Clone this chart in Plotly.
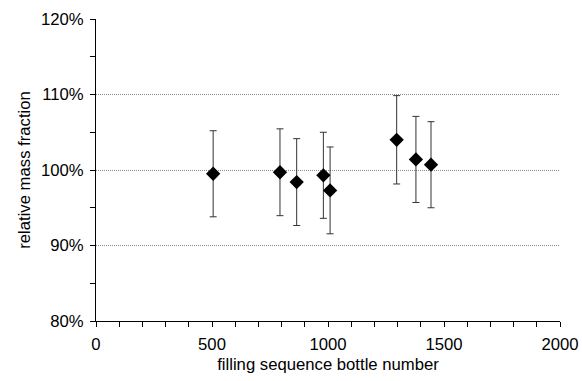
import plotly.graph_objects as go

bottle = [505, 793, 865, 980, 1009, 1296, 1379, 1444]
rel_mass = [0.995, 0.997, 0.984, 0.993, 0.973, 1.040, 1.014, 1.007]
uncert = [0.057, 0.0575, 0.0575, 0.057, 0.0575, 0.0585, 0.057, 0.057]

x_ticks = [0, 500, 1000, 1500, 2000]
y_ticks = [0.8, 0.9, 1.0, 1.1, 1.2]

FONT = "Liberation Sans, Arial, sans-serif"
FS = 16.7

fig = go.Figure()
fig.add_trace(go.Scatter(
    x=bottle, y=rel_mass, mode="markers",
    marker=dict(symbol="diamond", size=11, color="black"),
    error_y=dict(type="data", array=uncert, visible=True,
                 color="#333333", thickness=1, width=3.5),
    showlegend=False,
))

fig.update_layout(
    width=582, height=381,
    margin=dict(l=96, r=22, t=19, b=60, autoexpand=False),
    paper_bgcolor="white", plot_bgcolor="white",
    font=dict(family=FONT, size=FS, color="black"),
    xaxis=dict(
        range=[0, 2000], tickvals=x_ticks, ticktext=[str(v) for v in x_ticks],
        showline=True, linecolor="black", linewidth=1,
        ticks="outside", ticklen=5, tickcolor="black", ticklabelstandoff=3,
        minor=dict(dtick=100, ticks="outside", ticklen=5, tickcolor="black", showgrid=False),
        showgrid=False, zeroline=False, automargin=False,
        title=dict(text="filling sequence bottle number", font=dict(size=FS), standoff=5),
    ),
    yaxis=dict(
        range=[0.8, 1.2], tickvals=y_ticks, tickformat=".0%",
        showline=True, linecolor="black", linewidth=1,
        ticks="outside", ticklen=5, tickcolor="black", ticklabelstandoff=3,
        minor=dict(dtick=0.05, tick0=0.8, ticks="outside", ticklen=5, tickcolor="black", showgrid=False),
        showgrid=True, gridcolor="#8c8c8c", griddash="1px,1px", gridwidth=1,
        zeroline=False, automargin=False,
        title=dict(text="relative mass fraction", font=dict(size=FS), standoff=6),
    ),
)

fig.write_html("out.html")
